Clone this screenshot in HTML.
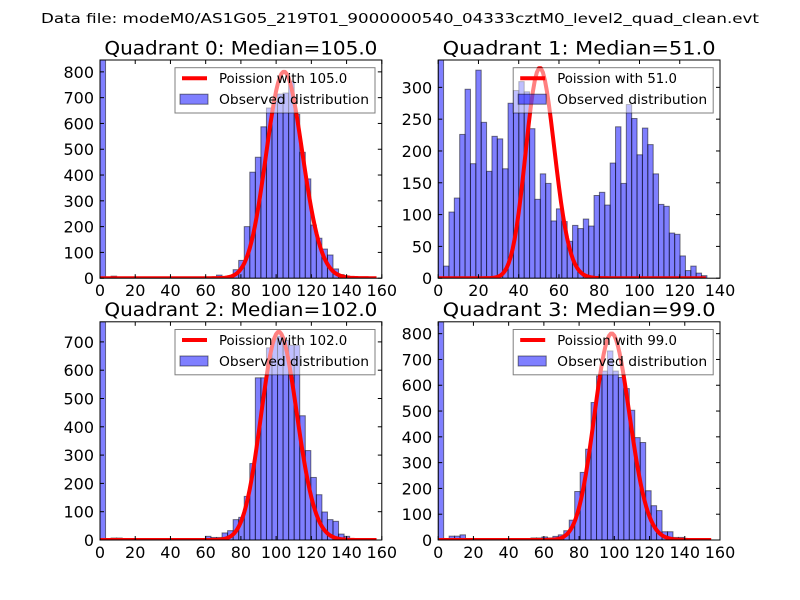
<!DOCTYPE html>
<html><head><meta charset="utf-8"><style>
html,body{margin:0;padding:0;background:#fff;}
svg{display:block;font-family:"DejaVu Sans","Liberation Sans",sans-serif;}
</style></head>
<body>
<svg id="fig" width="800" height="600" viewBox="0 0 800 600" xmlns="http://www.w3.org/2000/svg">
<rect width="800" height="600" fill="#fff"/>
<text x="400" y="23" text-anchor="middle" font-size="13.7" textLength="718" lengthAdjust="spacingAndGlyphs">Data file: modeM0/AS1G05_219T01_9000000540_04333cztM0_level2_quad_clean.evt</text>
</svg>
<script>
// ---- data ----
const quadrantNames = ["Quadrant 0", "Quadrant 1", "Quadrant 2", "Quadrant 3"];
const medians = [105.0, 51.0, 102.0, 99.0];
const binWidths = [3.15, 2.67, 3.15, 3.1];
const q0Counts = [846,0,8,3,3,3,0,0,0,0, 0,0,0,0,0,0,0,0,4,5, 0,12,3,5,33,69,200,411,469,587, 660,686,714,718,763,635,488,385,206,155, 113,90,36,14,8,0,0,0,0,0];
const q1Counts = [343,19,104,126,226,297,180,327,245,168, 223,219,172,275,295,309,293,235,124,164, 149,90,109,89,58,83,78,93,82,130, 135,115,181,238,149,273,251,194,236,210, 164,116,113,71,69,35,12,19,8,4];
const q2Counts = [771,0,7,7,0,0,0,0,0,0, 0,0,0,0,0,0,0,0,0,13, 9,9,25,33,72,80,154,270,573,573, 679,711,720,705,688,688,439,316,221,160, 99,72,66,21,13,0,0,0,0,0];
const q3Counts = [846,0,15,15,20,0,0,0,0,0, 0,0,0,0,0,0,0,8,8,12, 8,14,20,36,77,188,262,352,533,636, 655,733,655,630,587,503,397,378,191,133, 114,32,32,10,10,0,0,0,0,0];
const poissonPeaks = [800, 330, 735, 800];
const xMaxes = [160, 140, 160, 160];
const yMaxes = [846, 343, 771, 846];
const q0YTicks = [0,100,200,300,400,500,600,700,800];
const q1YTicks = [0,50,100,150,200,250,300];
const q2YTicks = [0,100,200,300,400,500,600,700];
const q3YTicks = [0,100,200,300,400,500,600,700,800];
const x160Ticks = [0,20,40,60,80,100,120,140,160];
const x140Ticks = [0,20,40,60,80,100,120,140];

const allCounts = [q0Counts, q1Counts, q2Counts, q3Counts];
const allYTicks = [q0YTicks, q1YTicks, q2YTicks, q3YTicks];
const allXTicks = [x160Ticks, x140Ticks, x160Ticks, x160Ticks];

const NS = "http://www.w3.org/2000/svg";
const svg = document.getElementById("fig");
const origins = [[100,60],[438.2,60],[100,321.8],[438.2,321.8]];
const AW = 281.8, AH = 218.2;

function mk(tag, attrs, parent) {
  const e = document.createElementNS(NS, tag);
  for (const k in attrs) e.setAttribute(k, attrs[k]);
  parent.appendChild(e);
  return e;
}
function lgamma(n) { let s = 0; for (let i = 2; i <= n; i++) s += Math.log(i); return s; }

for (let p = 0; p < 4; p++) {
  const [x0, y0] = origins[p];
  const xs = v => x0 + v / xMaxes[p] * AW;
  const ys = v => y0 + AH - v / yMaxes[p] * AH;
  const g = mk("g", {}, svg);
  
  

  const cp = mk("clipPath", {id: "clip" + p}, g);
  mk("rect", {x: x0, y: y0, width: AW, height: AH}, cp);

  // bars
  const bg = mk("g", {"clip-path": "url(#clip" + p + ")"}, g);
  const counts = allCounts[p], bw = binWidths[p];
  counts.forEach((c, i) => {
    if (c <= 0) return;
    const xl = xs(i * bw), xr = xs((i + 1) * bw);
    const r = mk("rect", {x: xl, y: ys(c), width: xr - xl, height: ys(0) - ys(c), fill: "#0000ff", "fill-opacity": 0.5, stroke: "#000", "stroke-opacity": 0.5, "stroke-width": 1}, bg);
    
    
  });

  // poisson curve
  const lam = medians[p];
  const kmax = Math.floor(counts.length * bw);
  const lpMax = Math.floor(lam) * Math.log(lam) - lam - lgamma(Math.floor(lam));
  let d = "";
  for (let k = 0; k <= kmax; k++) {
    const lp = k * Math.log(lam) - lam - lgamma(k);
    const v = poissonPeaks[p] * Math.exp(lp - lpMax);
    d += (k ? "L" : "M") + xs(k).toFixed(2) + "," + ys(v).toFixed(2);
  }
  const curve = mk("path", {d: d, fill: "none", stroke: "#ff0000", "stroke-width": 4, "stroke-linejoin": "round"}, bg);
  
  

  // frame
  const fr = mk("rect", {x: x0, y: y0, width: AW, height: AH, fill: "none", stroke: "#000", "stroke-width": 1}, g);
  
  

  // ticks
  allXTicks[p].forEach(t => {
    const x = xs(t);
    mk("line", {x1: x, x2: x, y1: y0 + AH, y2: y0 + AH - 4, stroke: "#000"}, g);
    mk("line", {x1: x, x2: x, y1: y0, y2: y0 + 4, stroke: "#000"}, g);
    const tl = mk("text", {x: x, y: y0 + AH + 18, "text-anchor": "middle", "font-size": 16}, g);
    tl.textContent = t;
    
    
  });
  allYTicks[p].forEach(t => {
    const y = ys(t);
    mk("line", {x1: x0, x2: x0 + 4, y1: y, y2: y, stroke: "#000"}, g);
    mk("line", {x1: x0 + AW, x2: x0 + AW - 4, y1: y, y2: y, stroke: "#000"}, g);
    const tl = mk("text", {x: x0 - 6, y: y + 6, "text-anchor": "end", "font-size": 16}, g);
    tl.textContent = t;
    
    
  });

  // title
  const ti = mk("text", {x: x0 + AW / 2, y: y0 - 5.7, "text-anchor": "middle", "font-size": 18.5, textLength: 273, lengthAdjust: "spacingAndGlyphs"}, g);
  ti.textContent = quadrantNames[p] + ": Median=" + medians[p].toFixed(1);
  
  

  // legend
  const lx = x0 + 75, ly = y0 + 7.7;
  const lg = mk("g", {}, g);
  
  
  mk("rect", {x: lx, y: ly, width: 200, height: 45.3, fill: "#fff", "fill-opacity": 0.5, stroke: "#000", "stroke-opacity": 0.5, "stroke-width": 1}, lg);
  mk("line", {x1: lx + 7, x2: lx + 32, y1: ly + 10.5, y2: ly + 10.5, stroke: "#ff0000", "stroke-width": 4}, lg);
  const t1 = mk("text", {x: lx + 44, y: ly + 15.5, "font-size": 13.3}, lg);
  t1.textContent = "Poission with " + medians[p].toFixed(1);
  
  
  mk("rect", {x: lx + 5, y: ly + 26.5, width: 28, height: 10, fill: "#0000ff", "fill-opacity": 0.5, stroke: "#000", "stroke-opacity": 0.5}, lg);
  const t2 = mk("text", {x: lx + 44, y: ly + 36.5, "font-size": 13.3, textLength: 150, lengthAdjust: "spacingAndGlyphs"}, lg);
  t2.textContent = "Observed distribution";
  
  
}
</script>
</body></html>
